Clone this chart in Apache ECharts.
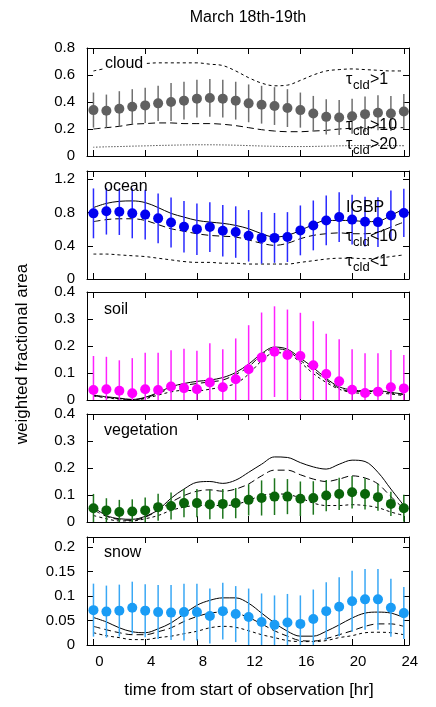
<!DOCTYPE html>
<html>
<head>
<meta charset="utf-8">
<script src="https://cdn.jsdelivr.net/npm/echarts@6/dist/echarts.min.js"></script>
<style>
  html, body { margin: 0; padding: 0; background: #fff; }
  #chart { width: 436px; height: 707px; }
</style>
</head>
<body>
<div id="chart"></div>
<script>
// hours from start of observation
const hours = [0, 1, 2, 3, 4, 5, 6, 7, 8, 9, 10, 11, 12, 13, 14, 15, 16, 17, 18, 19, 20, 21, 22, 23, 24];
const xTicks = [0, 4, 8, 12, 16, 20, 24];

// cloud
const cloudMean = [0.34, 0.335, 0.35, 0.365, 0.375, 0.39, 0.40, 0.41, 0.425, 0.43, 0.425, 0.41, 0.39, 0.38, 0.37, 0.355, 0.34, 0.315, 0.29, 0.285, 0.295, 0.31, 0.32, 0.315, 0.33];
const cloudErr = [0.13, 0.12, 0.13, 0.13, 0.13, 0.13, 0.14, 0.14, 0.14, 0.14, 0.14, 0.14, 0.14, 0.14, 0.14, 0.14, 0.13, 0.13, 0.13, 0.13, 0.13, 0.13, 0.13, 0.13, 0.13];
const cloudTau1 = [0.63, 0.65, 0.67, 0.68, 0.685, 0.69, 0.69, 0.69, 0.69, 0.68, 0.67, 0.63, 0.58, 0.54, 0.52, 0.525, 0.56, 0.60, 0.63, 0.64, 0.645, 0.64, 0.635, 0.63, 0.63];
const cloudTau10 = [0.2, 0.21, 0.22, 0.235, 0.24, 0.245, 0.245, 0.24, 0.24, 0.24, 0.235, 0.225, 0.21, 0.195, 0.185, 0.18, 0.18, 0.185, 0.19, 0.2, 0.205, 0.21, 0.21, 0.21, 0.21];
const cloudTau20 = [0.065, 0.068, 0.07, 0.073, 0.075, 0.078, 0.08, 0.082, 0.083, 0.083, 0.082, 0.08, 0.077, 0.074, 0.072, 0.07, 0.07, 0.071, 0.073, 0.075, 0.077, 0.078, 0.078, 0.077, 0.076];
const cloudTicks = [0, 0.2, 0.4, 0.6, 0.8];

// ocean
const oceanMean = [0.79, 0.815, 0.81, 0.79, 0.775, 0.73, 0.68, 0.63, 0.60, 0.625, 0.58, 0.565, 0.52, 0.495, 0.495, 0.505, 0.585, 0.645, 0.705, 0.745, 0.715, 0.69, 0.685, 0.765, 0.795];
const oceanErr = [0.3, 0.28, 0.28, 0.3, 0.3, 0.3, 0.3, 0.31, 0.31, 0.3, 0.31, 0.31, 0.31, 0.31, 0.3, 0.3, 0.3, 0.3, 0.3, 0.3, 0.3, 0.3, 0.3, 0.3, 0.29];
const oceanIGBP = [0.86, 0.91, 0.935, 0.94, 0.92, 0.86, 0.79, 0.745, 0.705, 0.685, 0.67, 0.645, 0.605, 0.545, 0.505, 0.525, 0.585, 0.655, 0.705, 0.705, 0.705, 0.69, 0.695, 0.765, 0.845];
const oceanTau10 = [0.69, 0.715, 0.725, 0.725, 0.705, 0.655, 0.605, 0.575, 0.545, 0.525, 0.515, 0.505, 0.47, 0.43, 0.405, 0.43, 0.485, 0.525, 0.545, 0.555, 0.545, 0.545, 0.565, 0.625, 0.685];
const oceanTau1 = [0.30, 0.30, 0.29, 0.28, 0.27, 0.25, 0.23, 0.21, 0.20, 0.20, 0.19, 0.19, 0.18, 0.18, 0.18, 0.18, 0.20, 0.22, 0.24, 0.25, 0.25, 0.245, 0.25, 0.27, 0.29];
const oceanTicks = [0, 0.4, 0.8, 1.2];

// soil
const soilMean = [0.037, 0.04, 0.034, 0.025, 0.04, 0.037, 0.05, 0.044, 0.04, 0.065, 0.047, 0.077, 0.114, 0.157, 0.179, 0.167, 0.163, 0.129, 0.096, 0.069, 0.038, 0.026, 0.031, 0.047, 0.043];
const soilErr = [0.126, 0.12, 0.113, 0.13, 0.135, 0.138, 0.134, 0.146, 0.142, 0.145, 0.141, 0.151, 0.163, 0.167, 0.168, 0.168, 0.16, 0.163, 0.149, 0.156, 0.15, 0.147, 0.142, 0.138, 0.124];
const soilIGBP = [0.018, 0.012, 0.007, 0.002, 0.01, 0.028, 0.049, 0.061, 0.069, 0.074, 0.083, 0.102, 0.133, 0.172, 0.196, 0.188, 0.155, 0.12, 0.08, 0.049, 0.037, 0.034, 0.034, 0.028, 0.022];
const soilTau10 = [0.016, 0.01, 0.005, 0.001, 0.008, 0.024, 0.044, 0.054, 0.061, 0.067, 0.074, 0.095, 0.123, 0.167, 0.19, 0.182, 0.147, 0.11, 0.074, 0.044, 0.032, 0.032, 0.03, 0.026, 0.02];
const soilTau1 = [0.015, 0.008, 0.003, 0.0, 0.005, 0.018, 0.03, 0.036, 0.034, 0.04, 0.049, 0.061, 0.096, 0.145, 0.175, 0.172, 0.139, 0.098, 0.065, 0.04, 0.028, 0.025, 0.025, 0.022, 0.016];
const soilTicks = [0, 0.1, 0.2, 0.3, 0.4];

// vegetation
const vegMean = [0.051, 0.043, 0.037, 0.039, 0.043, 0.055, 0.059, 0.07, 0.07, 0.065, 0.067, 0.07, 0.082, 0.089, 0.094, 0.094, 0.086, 0.089, 0.098, 0.104, 0.11, 0.104, 0.092, 0.067, 0.051];
const vegErr = [0.053, 0.045, 0.045, 0.045, 0.048, 0.05, 0.05, 0.052, 0.052, 0.055, 0.055, 0.056, 0.058, 0.065, 0.068, 0.065, 0.064, 0.062, 0.058, 0.06, 0.06, 0.058, 0.05, 0.045, 0.05];
const vegIGBP = [0.055, 0.024, 0.012, 0.01, 0.021, 0.045, 0.088, 0.122, 0.147, 0.15, 0.143, 0.155, 0.184, 0.214, 0.241, 0.239, 0.22, 0.204, 0.196, 0.214, 0.229, 0.224, 0.184, 0.122, 0.061];
const vegTau10 = [0.045, 0.021, 0.009, 0.006, 0.018, 0.043, 0.073, 0.098, 0.114, 0.119, 0.114, 0.122, 0.141, 0.171, 0.192, 0.192, 0.175, 0.159, 0.15, 0.159, 0.171, 0.163, 0.141, 0.094, 0.049];
const vegTau1 = [0.024, 0.012, 0.004, 0.004, 0.012, 0.024, 0.043, 0.055, 0.061, 0.061, 0.061, 0.065, 0.08, 0.098, 0.104, 0.102, 0.089, 0.07, 0.061, 0.061, 0.064, 0.061, 0.053, 0.037, 0.024];
const vegTicks = [0, 0.1, 0.2, 0.3, 0.4];

// snow
const snowMean = [0.071, 0.068, 0.07, 0.076, 0.07, 0.067, 0.066, 0.067, 0.067, 0.059, 0.069, 0.063, 0.057, 0.047, 0.041, 0.046, 0.043, 0.053, 0.069, 0.078, 0.089, 0.093, 0.093, 0.076, 0.065];
const snowErr = [0.054, 0.053, 0.053, 0.053, 0.054, 0.055, 0.056, 0.058, 0.058, 0.056, 0.058, 0.057, 0.058, 0.058, 0.06, 0.058, 0.058, 0.06, 0.059, 0.06, 0.062, 0.062, 0.062, 0.059, 0.053];
const snowIGBP = [0.056, 0.047, 0.035, 0.027, 0.025, 0.033, 0.045, 0.063, 0.081, 0.091, 0.096, 0.096, 0.085, 0.065, 0.045, 0.028, 0.018, 0.018, 0.028, 0.041, 0.055, 0.065, 0.067, 0.065, 0.056];
const snowTau10 = [0.038, 0.031, 0.025, 0.021, 0.021, 0.027, 0.035, 0.048, 0.058, 0.065, 0.067, 0.065, 0.056, 0.043, 0.029, 0.018, 0.009, 0.008, 0.013, 0.021, 0.029, 0.038, 0.043, 0.043, 0.038];
const snowTau1 = [0.025, 0.019, 0.015, 0.011, 0.011, 0.015, 0.018, 0.023, 0.028, 0.035, 0.038, 0.036, 0.029, 0.021, 0.015, 0.009, 0.007, 0.007, 0.009, 0.015, 0.019, 0.025, 0.026, 0.025, 0.021];
const snowTicks = [0, 0.05, 0.1, 0.15, 0.2];

const FONT = 'Liberation Sans, Arial, Helvetica, sans-serif';
const LONG = [7, 4];
const SHORT = [3, 3];
const DOT = [1, 2];

// one entry per stacked panel
const panels = [
  { top: 48, max: 0.8, ticks: cloudTicks, mean: cloudMean, err: cloudErr, dot: '#606060', bar: '#707070',
    lines: [[cloudTau1, SHORT], [cloudTau10, LONG], [cloudTau20, DOT]] },
  { top: 171, max: 1.3, ticks: oceanTicks, mean: oceanMean, err: oceanErr, dot: '#0000f0', bar: '#2a2aff',
    lines: [[oceanIGBP, 'solid'], [oceanTau10, LONG], [oceanTau1, SHORT]] },
  { top: 292, max: 0.4, ticks: soilTicks, mean: soilMean, err: soilErr, dot: '#ff00ff', bar: '#ff22ff',
    lines: [[soilIGBP, 'solid'], [soilTau10, LONG], [soilTau1, SHORT]] },
  { top: 414, max: 0.4, ticks: vegTicks, mean: vegMean, err: vegErr, dot: '#0a640a', bar: '#1e761e',
    lines: [[vegIGBP, 'solid'], [vegTau10, LONG], [vegTau1, SHORT]] },
  { top: 537, max: 0.22, ticks: snowTicks, mean: snowMean, err: snowErr, dot: '#1a9cf5', bar: '#3aa8f5',
    lines: [[snowIGBP, 'solid'], [snowTau10, LONG], [snowTau1, SHORT]] }
];

const fmt = (v) => String(+v.toFixed(3));
const black = { color: '#000', width: 1 };

const grids = [];
const xAxes = [];
const yAxes = [];
const series = [];

panels.forEach((p, i) => {
  grids.push({ left: 87, right: 27, top: p.top, height: 108 });

  ['bottom', 'top'].forEach((pos) => {
    xAxes.push({
      type: 'value', gridIndex: i, position: pos, min: -0.5, max: 24.4,
      axisLine: { show: true, onZero: false, lineStyle: black },
      axisTick: { show: true, inside: true, length: 6, customValues: xTicks, lineStyle: black },
      axisLabel: {
        show: pos === 'bottom' && i === panels.length - 1,
        customValues: xTicks, color: '#000', fontSize: 15, fontFamily: FONT,
        margin: 9, padding: [0, 0, 0, 12]
      },
      splitLine: { show: false }
    });
  });

  ['left', 'right'].forEach((pos) => {
    yAxes.push({
      type: 'value', gridIndex: i, position: pos, min: 0, max: p.max,
      axisLine: { show: true, onZero: false, lineStyle: black },
      axisTick: { show: true, inside: true, length: 6, customValues: p.ticks, lineStyle: black },
      axisLabel: {
        show: pos === 'left', customValues: p.ticks, formatter: fmt,
        color: '#000', fontSize: 15, fontFamily: FONT, margin: 12
      },
      splitLine: { show: false }
    });
  });

  p.lines.forEach(([arr, dash]) => {
    series.push({
      type: 'line', xAxisIndex: 2 * i, yAxisIndex: 2 * i,
      data: hours.map((h, k) => [h, arr[k]]),
      showSymbol: false, smooth: 0.35, silent: true,
      lineStyle: { color: '#000', width: 1, type: dash }, z: 2
    });
  });

  // error bars through the panel's own scales
  series.push({
    type: 'custom', xAxisIndex: 2 * i, yAxisIndex: 2 * i,
    data: hours.map((h, k) => [h, p.mean[k], p.err[k]]),
    encode: { x: 0, y: 1 },
    renderItem: (params, api) => {
      const x = api.value(0), m = api.value(1), e = api.value(2);
      const lo = api.coord([x, Math.max(0, m - e)]);
      const hi = api.coord([x, Math.min(p.max, m + e)]);
      return {
        type: 'line',
        shape: { x1: lo[0], y1: lo[1], x2: hi[0], y2: hi[1] },
        style: { stroke: p.bar, lineWidth: 1.5 }
      };
    },
    z: 3
  });

  series.push({
    type: 'scatter', xAxisIndex: 2 * i, yAxisIndex: 2 * i,
    data: hours.map((h, k) => [h, p.mean[k]]),
    symbolSize: 10, itemStyle: { color: p.dot, opacity: 1 }, z: 4
  });
});

const text = (str, x, y, size, extra) => ({
  type: 'text', z: 10,
  style: Object.assign({ text: str, x, y, fill: '#000', font: size + 'px ' + FONT, textVerticalAlign: 'middle' }, extra || {})
});

// tau label: symbol, subscript, rest
const tau = (rest, x, y) => [
  text('\u03c4', x, y, 16),
  text('cld', x + 7, y + 5, 13),
  text(rest, x + 24, y, 16)
];

const graphics = [
  text('March 18th-19th', 248, 18, 16, { textAlign: 'center' }),
  text('time from start of observation [hr]', 249, 690, 17, { textAlign: 'center' }),
  { type: 'text', z: 10, x: 22, y: 354, rotation: Math.PI / 2,
    style: { text: 'weighted fractional area', fill: '#000', font: '17px ' + FONT, textAlign: 'center', textVerticalAlign: 'middle' } },
  text('cloud', 103, 64, 16, { backgroundColor: '#fff', padding: [0, 2] }),
  text('ocean', 104, 187, 16),
  text('IGBP', 346, 208, 16),
  text('soil', 104, 310, 16),
  text('vegetation', 104, 431, 16),
  text('snow', 104, 553, 16)
].concat(
  tau('>1', 346, 80), tau('>10', 346, 126), tau('>20', 346, 145),
  tau('<10', 346, 237), tau('<1', 346, 262)
);

const chart = echarts.init(document.getElementById('chart'));
chart.setOption({
  animation: false,
  backgroundColor: '#fff',
  grid: grids,
  xAxis: xAxes,
  yAxis: yAxes,
  series: series,
  graphic: graphics
});
</script>
</body>
</html>
